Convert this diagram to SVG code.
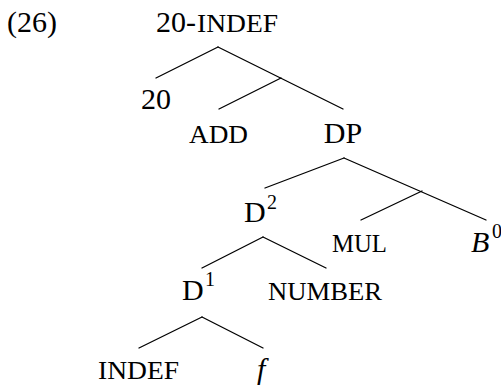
<svg xmlns="http://www.w3.org/2000/svg" width="501" height="390" viewBox="0 0 501 390">
<style>
text{font-family:"Liberation Serif","Times New Roman",serif;fill:#000}
.m{font-size:30px}
.sc{font-size:24.5px}
.sup{font-size:20px}
.it{font-style:italic}
.e line{stroke:#000;stroke-width:1.3;stroke-linecap:round}
</style>
<rect width="501" height="390" fill="#fff"/>
<text class="m" x="7" y="32">(26)</text>
<g id="connectors" class="e">
<line x1="218" y1="47" x2="156" y2="78"/>
<line x1="218" y1="47" x2="343" y2="109"/>
<line x1="281" y1="78" x2="219" y2="109"/>
<line x1="344" y1="158" x2="265" y2="188"/>
<line x1="344" y1="158" x2="486" y2="220"/>
<line x1="422" y1="191" x2="361" y2="220"/>
<line x1="263" y1="237" x2="202" y2="268"/>
<line x1="263" y1="237" x2="326" y2="268"/>
<line x1="202" y1="317" x2="139" y2="348"/>
<line x1="202" y1="317" x2="263" y2="348"/>
</g>
<g id="n-root"><text class="m" x="156" y="32">20-</text><text class="sc" x="197" y="32" textLength="81" lengthAdjust="spacingAndGlyphs">INDEF</text></g>
<g id="n-20"><text class="m" x="156" y="109" text-anchor="middle">20</text></g>
<g id="n-add"><text class="sc" x="189" y="143" textLength="59" lengthAdjust="spacingAndGlyphs">ADD</text></g>
<g id="n-dp"><text class="m" x="343" y="143" text-anchor="middle">DP</text></g>
<g id="n-d2"><text class="m" x="244" y="222">D</text><text class="sup" x="267" y="209">2</text></g>
<g id="n-mul"><text class="sc" x="332" y="252" textLength="55" lengthAdjust="spacingAndGlyphs">MUL</text></g>
<g id="n-b0"><text class="m it" x="471" y="252">B</text><text class="sup" x="492" y="238">0</text></g>
<g id="n-d1"><text class="m" x="182" y="300">D</text><text class="sup" x="205" y="286">1</text></g>
<g id="n-number"><text class="sc" x="268" y="300" textLength="114" lengthAdjust="spacingAndGlyphs">NUMBER</text></g>
<g id="n-indef"><text class="sc" x="98" y="379" textLength="81" lengthAdjust="spacingAndGlyphs">INDEF</text></g>
<g id="n-f"><text class="m it" x="257" y="379">f</text></g>
</svg>
